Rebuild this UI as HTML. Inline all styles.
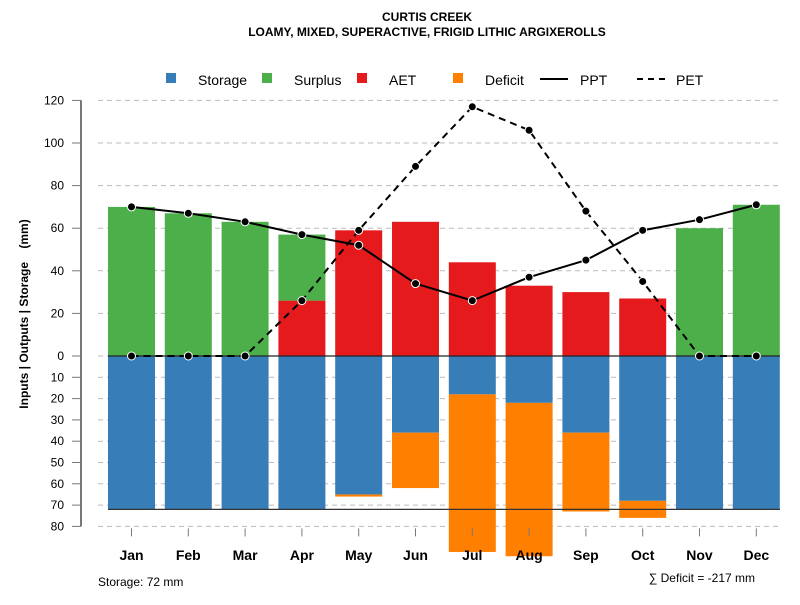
<!DOCTYPE html>
<html><head><meta charset="utf-8"><style>
body{margin:0;background:#fff;font-family:"Liberation Sans",sans-serif}
</style></head><body>
<svg id="c" width="800" height="600" xmlns="http://www.w3.org/2000/svg" font-family="Liberation Sans, sans-serif">
<text x="427" y="21" text-anchor="middle" font-size="12" font-weight="bold">CURTIS CREEK</text>
<text x="427" y="36" text-anchor="middle" font-size="12" font-weight="bold">LOAMY, MIXED, SUPERACTIVE, FRIGID LITHIC ARGIXEROLLS</text>
<g font-size="14">
<rect x="166" y="73" width="10" height="10" fill="#377eb8"/>
<text x="198" y="85">Storage</text>
<rect x="262" y="73" width="10" height="10" fill="#4daf4a"/>
<text x="294" y="85">Surplus</text>
<rect x="357" y="73" width="10" height="10" fill="#e41a1c"/>
<text x="389" y="85">AET</text>
<rect x="453" y="73" width="10" height="10" fill="#ff7f00"/>
<text x="485" y="85">Deficit</text>
<line x1="540" y1="79" x2="568" y2="79" stroke="#000" stroke-width="2"/>
<text x="580" y="85">PPT</text>
<line x1="637" y1="79" x2="665" y2="79" stroke="#000" stroke-width="2" stroke-dasharray="6,5"/>
<text x="676" y="85">PET</text>
</g>
<g id="grid"></g><g id="bars"></g><g id="lines"></g><g id="axes"></g>
<text transform="translate(28,314) rotate(-90)" text-anchor="middle" font-size="12" font-weight="bold">Inputs | Outputs | Storage&#160;&#160;&#160;&#160;(mm)</text>
<text x="98" y="586" font-size="12">Storage: 72 mm</text>
<text x="755" y="582" text-anchor="end" font-size="12">∑ Deficit = -217 mm</text>
</svg>
<script>
const months=["Jan","Feb","Mar","Apr","May","Jun","Jul","Aug","Sep","Oct","Nov","Dec"];
const aet=[0,0,0,26,59,63,44,33,30,27,0,0];
const surplus=[70,67,63,31,0,0,0,0,0,0,60,71];
const storage=[72,72,72,72,65,36,18,22,36,68,72,72];
const deficit=[0,0,0,0,1,26,74,72,37,8,0,0];
const ppt=[70,67,63,57,52,34,26,37,45,59,64,71];
const pet=[0,0,0,26,59,89,117,106,68,35,0,0];
const posTicks=[0,20,40,60,80,100,120];
const negTicks=[10,20,30,40,50,60,70,80];
const maxStorage=72;
const NS="http://www.w3.org/2000/svg";
const y0=356,k=2.13;
const yU=v=>y0-v*k, yD=v=>y0+v*k;
const xC=i=>131.5+i*56.8;
const bw=47;
function mk(p,t,a){const e=document.createElementNS(NS,t);for(const n in a)e.setAttribute(n,a[n]);document.getElementById(p).appendChild(e);return e;}
posTicks.forEach(t=>{const y=yU(t);
 const g=mk('grid','line',{x1:98,x2:780,y1:y,y2:y,stroke:'#bbb','stroke-dasharray':'5,4'});
 
 
 const tk=mk('axes','line',{x1:72,x2:81,y1:y,y2:y,stroke:'#777'});
 
 
 const tx=mk('axes','text',{x:64,y:y+4,'text-anchor':'end','font-size':12});tx.textContent=t;
 
 });
negTicks.forEach(t=>{const y=yD(t);
 const g=mk('grid','line',{x1:98,x2:780,y1:y,y2:y,stroke:'#bbb','stroke-dasharray':'5,4'});
 
 
 const tk=mk('axes','line',{x1:72,x2:81,y1:y,y2:y,stroke:'#777'});
 
 
 const tx=mk('axes','text',{x:64,y:y+4,'text-anchor':'end','font-size':12});tx.textContent=t;
 
 });
const ax=mk('axes','line',{x1:81,x2:81,y1:yU(120),y2:yD(80),stroke:'#777','stroke-width':2});


months.forEach((m,i)=>{const x=xC(i),l=x-bw/2;
 let r=mk('bars','rect',{x:l,y:yU(aet[i]),width:bw,height:aet[i]*k,fill:'#e41a1c'});
 
 
 r=mk('bars','rect',{x:l,y:yU(aet[i]+surplus[i]),width:bw,height:surplus[i]*k,fill:'#4daf4a'});
 
 
 r=mk('bars','rect',{x:l,y:y0,width:bw,height:storage[i]*k,fill:'#377eb8'});
 
 
 r=mk('bars','rect',{x:l,y:yD(storage[i]),width:bw,height:deficit[i]*k,fill:'#ff7f00'});
 
 
 const tk=mk('axes','line',{x1:x,x2:x,y1:yD(80)+2,y2:yD(80)+10,stroke:'#777'});
 
 
 const tx=mk('axes','text',{x:x,y:560,'text-anchor':'middle','font-size':14,'font-weight':'bold'});tx.textContent=m;
 
 });
let z=mk('lines','line',{x1:108,x2:780,y1:y0,y2:y0,stroke:'#222','stroke-width':1.2});


z=mk('lines','line',{x1:108,x2:780,y1:yD(maxStorage),y2:yD(maxStorage),stroke:'#333','stroke-width':1.2});


function series(vals,name,dash){
 const p=mk('lines','polyline',{points:vals.map((v,i)=>xC(i)+','+yU(v)).join(' '),fill:'none',stroke:'#000','stroke-width':2,'stroke-dasharray':dash});
 
 
 vals.forEach((v,i)=>{const c=mk('lines','circle',{cx:xC(i),cy:yU(v),r:4,fill:'#000',stroke:'#fff','stroke-width':1});
 
 });
}
series(pet,'pet','7,5');
series(ppt,'ppt','none');
</script>
</body></html>
